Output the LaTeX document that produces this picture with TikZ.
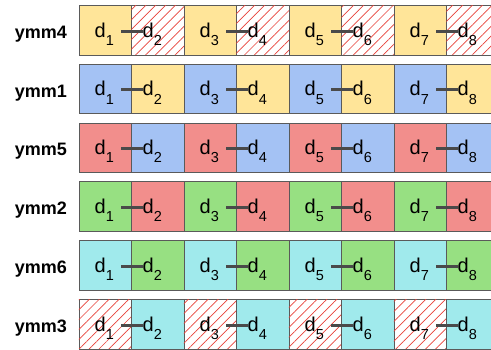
\documentclass[tikz,border=0pt]{standalone}
\usepackage{fontspec}
\setmainfont{Liberation Sans}
\usetikzlibrary{calc,patterns.meta}
\definecolor{lyellow}{HTML}{FFE599}
\definecolor{lblue}{HTML}{A4C2F4}
\definecolor{lred}{HTML}{F28E8C}
\definecolor{lgreen}{HTML}{97E082}
\definecolor{lcyan}{HTML}{A0EAEC}
\definecolor{hatchred}{HTML}{E8423A}
\definecolor{cellgray}{HTML}{5A5A5A}
\definecolor{linkgray}{HTML}{4A4A4A}
\tikzset{
  x=1pt, y=-1pt,
  cellbox/.style={draw=cellgray, line width=0.9pt, anchor=north west,
                  minimum width=52.5pt, minimum height=49.5pt, inner sep=0pt},
  fyellow/.style={fill=lyellow},
  fblue/.style={fill=lblue},
  fred/.style={fill=lred},
  fgreen/.style={fill=lgreen},
  fcyan/.style={fill=lcyan},
  hatch/.style={fill=white, postaction={pattern={Lines[angle=45,distance=7pt,line width=0.7pt]},
                pattern color=hatchred}},
  rowlbl/.style={anchor=base, inner sep=0pt, font=\bfseries\fontsize{18}{20}\selectfont},
  dlbl/.style={anchor=base west, inner sep=0pt, font=\fontsize{20}{22}\selectfont},
  link/.style={draw=linkgray, line width=3pt},
}
\newcommand{\dsub}[1]{d\raisebox{-8.3pt}{\fontsize{14.5}{14}\selectfont #1}}

\begin{document}
\begin{tikzpicture}
  \clip (0,0) rectangle (491,349);
  \fill[white] (0,0) rectangle (491,349);
  \foreach \nm/\fo/\fe [count=\r from 0] in {ymm4/fyellow/hatch, ymm1/fblue/fyellow,
      ymm5/fred/fblue, ymm2/fgreen/fred, ymm6/fcyan/fgreen, ymm3/hatch/fcyan} {
    \pgfmathsetmacro\ry{5+58.8*\r}
    \node[rowlbl] (lbl-\r) at (41,\ry+33.3) {\nm};
    \foreach \p in {0,...,3} {
      \pgfmathsetmacro\xo{78.5+105*\p}
      \pgfmathtruncatemacro\io{2*\p+1}
      \pgfmathtruncatemacro\ie{2*\p+2}
      \node[cellbox, \fo] (c-\r-\io) at (\xo,\ry) {};
      \node[cellbox, \fe] (c-\r-\ie) at (\xo+52.5,\ry) {};
      \node[dlbl] (d-\r-\io) at (\xo+16,\ry+32) {\dsub{\io}};
      \node[dlbl] (d-\r-\ie) at (\xo+64,\ry+32) {\dsub{\ie}};
      \draw[link] ($(d-\r-\io.base east)+(7,-6)$) -- ($(d-\r-\ie.base west)+(0,-6)$);
    }
  }
\end{tikzpicture}
\end{document}
